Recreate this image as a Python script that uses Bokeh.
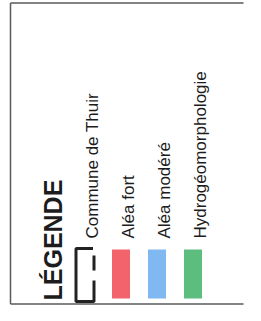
import math
from bokeh.plotting import figure
from bokeh.models import Range1d
from bokeh.core.properties import value
from bokeh.embed import file_html
from bokeh.resources import INLINE

# ---- data ----
title = "LÉGENDE"
labels = ["Commune de Thuir", "Aléa fort", "Aléa modéré", "Hydrogéomorphologie"]
kinds = ["outline", "fill", "fill", "fill"]
colors = ["#222222", "#f2636b", "#80b8f2", "#5dbd7e"]

# ---- layout (pixel coordinates) ----
W, H = 245, 305
p = figure(width=W, height=H, x_range=Range1d(0, W), y_range=Range1d(H, 0),
           output_backend="svg", toolbar_location=None, min_border=0,
           x_axis_location=None, y_axis_location=None)
p.grid.visible = False
p.outline_line_color = None
p.background_fill_color = "white"
p.border_fill_color = "white"

# frame (open on the right, as in the cropped scan)
p.segment(x0=[10, 10, 10], y0=[2.5, 2.5, 303.5], x1=[W - 2, 10, W - 2], y1=[2.5, 303.5, 303.5],
          line_color="#5a5a5a", line_width=1.5)

FONT = value("Liberation Sans")
ink = "#1c1c1c"

# title
p.text(x=[52], y=[300], text=[title], angle=math.pi / 2, text_align="left",
       text_baseline="alphabetic", text_font=FONT,
       text_font_style="bold", text_font_size="25px", text_color=ink)

step = 36
c0 = 84.5
sw = 18
ytop, ybot = 249, 298
centers = [c0 + i * step for i in range(len(labels))]

fx_l, fx_r, fcol = [], [], []
for c, k, col in zip(centers, kinds, colors):
    if k == "fill":
        fx_l.append(c - sw / 2); fx_r.append(c + sw / 2); fcol.append(col)
    else:
        x0, x1, y0, y1 = c - 9, c + 9, 248, 301
        p.multi_line(xs=[[x1 - 1, x0, x0, x1, x1], [x1, x1]],
                     ys=[[y0, y0, y1, y1, y1 - 21], [y0 + 7, y0 + 22]],
                     line_color=col, line_width=3)
p.quad(left=fx_l, right=fx_r, top=[ytop] * len(fx_l), bottom=[ybot] * len(fx_l),
       fill_color=fcol, line_color=None)

p.text(x=[c + 7 for c in centers], y=[238] * len(labels), text=labels,
       angle=math.pi / 2, text_align="left", text_baseline="alphabetic",
       text_font=FONT, text_font_size="17px", text_color=ink)

open("out.html", "w").write(file_html(p, INLINE))
